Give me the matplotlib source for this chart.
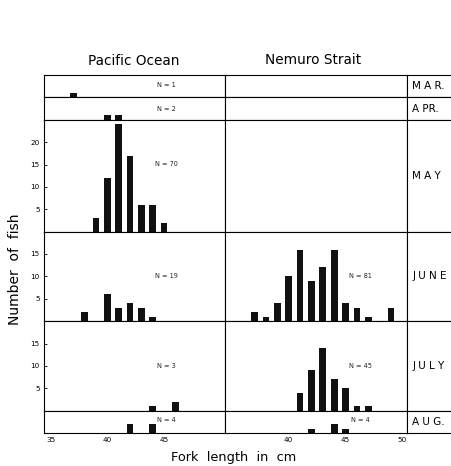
import matplotlib.pyplot as plt

# --- Fork length frequencies (cm -> number of fish) ---
months = ['MAR.', 'APR.', 'MAY', 'JUNE', 'JULY', 'AUG.']
month_labels = ['M A R.', 'A PR.', 'M A Y', 'J U N E', 'J U L Y', 'A U G.']

# Pacific Ocean
pac_mar_len = [37]
pac_mar_n = [1]
pac_apr_len = [40, 41]
pac_apr_n = [1, 1]
pac_may_len = [39, 40, 41, 42, 43, 44, 45]
pac_may_n = [3, 12, 24, 17, 6, 6, 2]
pac_jun_len = [38, 40, 41, 42, 43, 44]
pac_jun_n = [2, 6, 3, 4, 3, 1]
pac_jul_len = [44, 46]
pac_jul_n = [1, 2]
pac_aug_len = [42, 44]
pac_aug_n = [2, 2]

# Nemuro Strait
nem_jun_len = [37, 38, 39, 40, 41, 42, 43, 44, 45, 46, 47, 49]
nem_jun_n = [2, 1, 4, 10, 16, 9, 12, 16, 4, 3, 1, 3]
nem_jul_len = [41, 42, 43, 44, 45, 46, 47]
nem_jul_n = [4, 9, 14, 7, 5, 1, 1]
nem_aug_len = [42, 44, 45]
nem_aug_n = [1, 2, 1]

pacific = [(pac_mar_len, pac_mar_n, 'N = 1'), (pac_apr_len, pac_apr_n, 'N = 2'),
           (pac_may_len, pac_may_n, 'N = 70'), (pac_jun_len, pac_jun_n, 'N = 19'),
           (pac_jul_len, pac_jul_n, 'N = 3'), (pac_aug_len, pac_aug_n, 'N = 4')]
nemuro = [None, None, None, (nem_jun_len, nem_jun_n, 'N = 81'),
          (nem_jul_len, nem_jul_n, 'N = 45'), (nem_aug_len, nem_aug_n, 'N = 4')]

ymax = [5, 5, 25, 20, 20, 5]
yticks = [[], [], [5, 10, 15, 20], [5, 10, 15], [5, 10, 15], []]
# vertical position of the N= note, as fraction of row height
note_y = [0.55, 0.5, 0.6, 0.5, 0.5, 0.6]

plt.rcParams['font.family'] = 'DejaVu Sans'
plt.rcParams['axes.linewidth'] = 0.8

fig = plt.figure(figsize=(4.51, 4.66), dpi=100)
gs = fig.add_gridspec(6, 3, left=44/451, right=1.0, top=1-75/466, bottom=1-433/466,
                      hspace=0, wspace=0, width_ratios=[181, 182, 44],
                      height_ratios=ymax)

for r in range(6):
    for c, data in enumerate([pacific[r], nemuro[r]]):
        ax = fig.add_subplot(gs[r, c])
        ax.set_xlim(34.4, 50.4)
        ax.set_ylim(0, ymax[r])
        if data is not None:
            lens, counts, note = data
            ax.bar(lens, counts, width=0.6, color='#111111', edgecolor='none')
            nx = 45.2 if c == 0 else 46.3
            ax.text(nx, ymax[r] * note_y[r], note, fontsize=4.7,
                    ha='center', va='center', color='#222222')
        if c == 0 and yticks[r]:
            ax.set_yticks(yticks[r])
            ax.tick_params(axis='y', direction='in', length=2.5, width=0.6,
                           labelsize=5.2, pad=3)
        else:
            ax.set_yticks([])
        if r == 5:
            ticks = [35, 40, 45] if c == 0 else [40, 45, 50]
            ax.set_xticks(ticks)
            ax.tick_params(axis='x', length=0, labelsize=5.2, pad=3)
        else:
            ax.set_xticks([])

    lab = fig.add_subplot(gs[r, 2])
    lab.set_xticks([])
    lab.set_yticks([])
    lab.spines['right'].set_visible(False)
    lab.text(0.12, 0.5, month_labels[r], fontsize=7.5, ha='left', va='center',
             transform=lab.transAxes)

fig.text(134/451, 1 - 61/466, 'Pacific Ocean', fontsize=9.8, ha='center', va='center')
fig.text(313/451, 1 - 60/466, 'Nemuro Strait', fontsize=9.8, ha='center', va='center')
fig.text(234/451, 1 - 457/466, 'Fork  length  in  cm', fontsize=9.3, ha='center', va='center')
fig.text(15/451, 1 - 269/466, 'Number  of  fish', fontsize=10, ha='center', va='center',
         rotation=90)

fig.savefig('out.png', dpi=100)
